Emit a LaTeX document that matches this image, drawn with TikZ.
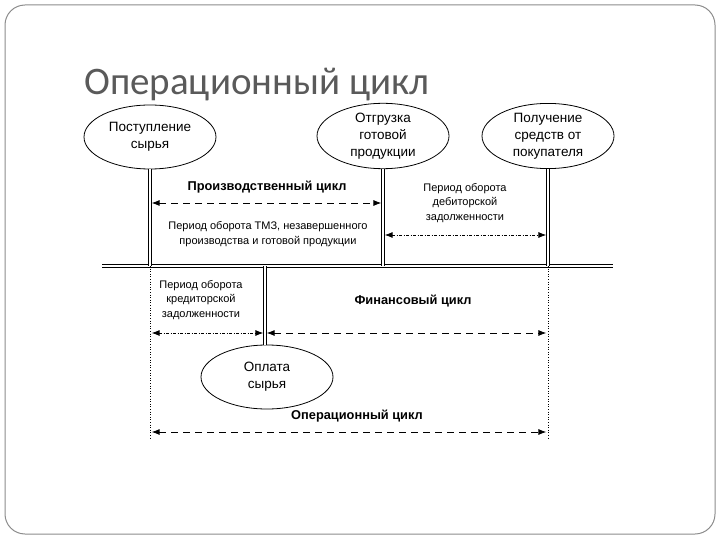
\documentclass[tikz,border=0pt]{standalone}
\usepackage{fontspec}
\setmainfont{Liberation Sans}
\newfontfamily\titlefont{Carlito}
\usepackage{xcolor}
\usetikzlibrary{arrows.meta,positioning,shapes.geometric}
\definecolor{ocInk}{HTML}{000000}
\definecolor{ocTitle}{HTML}{5A5A5A}
\definecolor{ocFrame}{HTML}{8C8C8C}
\tikzset{
  oc diagram/.style={x=1pt, y=-1pt, text=ocInk, line cap=butt},
  oc event/.style={ellipse, draw, line width=0.8pt, minimum width=132pt,
    minimum height=64pt, inner sep=0pt, align=center,
    font=\fontsize{13.5}{17}\selectfont},
  oc rail/.style={draw, double, double distance=1.8pt, line width=0.7pt},
  oc guide/.style={draw, line width=0.6pt, dotted},
  oc arrow/.style={{Latex[length=8pt,width=6pt]}-{Latex[length=8pt,width=6pt]},
    line width=0.9pt, dash pattern=on 7pt off 5pt, shorten >=1.6pt, shorten <=1.6pt},
  oc period arrow/.style={oc arrow, dash pattern=on 3pt off 1.5pt on 1pt off 1.5pt},
  oc cycle/.style={font=\bfseries\fontsize{12.8}{14}\selectfont},
  oc note/.style={align=center, font=\fontsize{11}{14.5}\selectfont}
}
\begin{document}
\begin{tikzpicture}[oc diagram]
\useasboundingbox (0,0) rectangle (720,540);
\draw[ocFrame, line width=1pt, rounded corners=20pt] (5,5) rectangle (715,534);
\node[anchor=base west, inner sep=0pt, text=ocTitle,
  font=\titlefont\fontsize{39}{46}\selectfont] (title) at (84,95) {Операционный цикл};

\node[oc event] (raw) at (150,137) {Поступление\\сырья};
\node[oc event] (ship) at (383,136) {Отгрузка\\готовой\\продукции};
\node[oc event] (cash) at (548,136) {Получение\\средств от\\покупателя};
\node[oc event] (pay) at (267,377) {Оплата\\сырья};

\coordinate (hl) at (102,266);
\coordinate (hr) at (613,266);
\coordinate (bot) at (0,440);
\coordinate (yprod) at (0,203);
\coordinate (yrec) at (0,235);
\coordinate (yfin) at (0,333);
\coordinate (yop) at (0,432);

\draw[oc rail] (hl) -- (hr);
\draw[oc rail] (raw.south) -- (raw.south |- hl);
\draw[oc rail] (ship.south) -- (ship.south |- hl);
\draw[oc rail] (cash.south) -- (cash.south |- hl);
\draw[oc rail] (pay.north -| 265,0) -- (265,266);
\draw[oc guide] (raw.south |- hl) -- (raw.south |- bot);
\draw[oc guide] (cash.south |- hl) -- (cash.south |- bot);

\draw[oc arrow] (raw.south |- yprod) -- (ship.south |- yprod);
\draw[oc period arrow] (ship.south |- yrec) -- (cash.south |- yrec);
\draw[oc period arrow] (raw.south |- yfin) -- (265,333);
\draw[oc arrow] (265,333) -- (cash.south |- yfin);
\draw[oc arrow] (raw.south |- yop) -- (cash.south |- yop);

\node[oc cycle] (prod) at (267,187) {Производственный цикл};
\node[oc note] (inv) at (268,234) {Период оборота ТМЗ, незавершенного\\производства и готовой продукции};
\node[oc note] (rec) at (465,203) {Период оборота\\дебиторской\\задолженности};
\node[oc note] (pyb) at (201,300) {Период оборота\\кредиторской\\задолженности};
\node[oc cycle] (fin) at (413,301) {Финансовый цикл};
\node[oc cycle] (opc) at (357,416) {Операционный цикл};
\end{tikzpicture}
\end{document}
